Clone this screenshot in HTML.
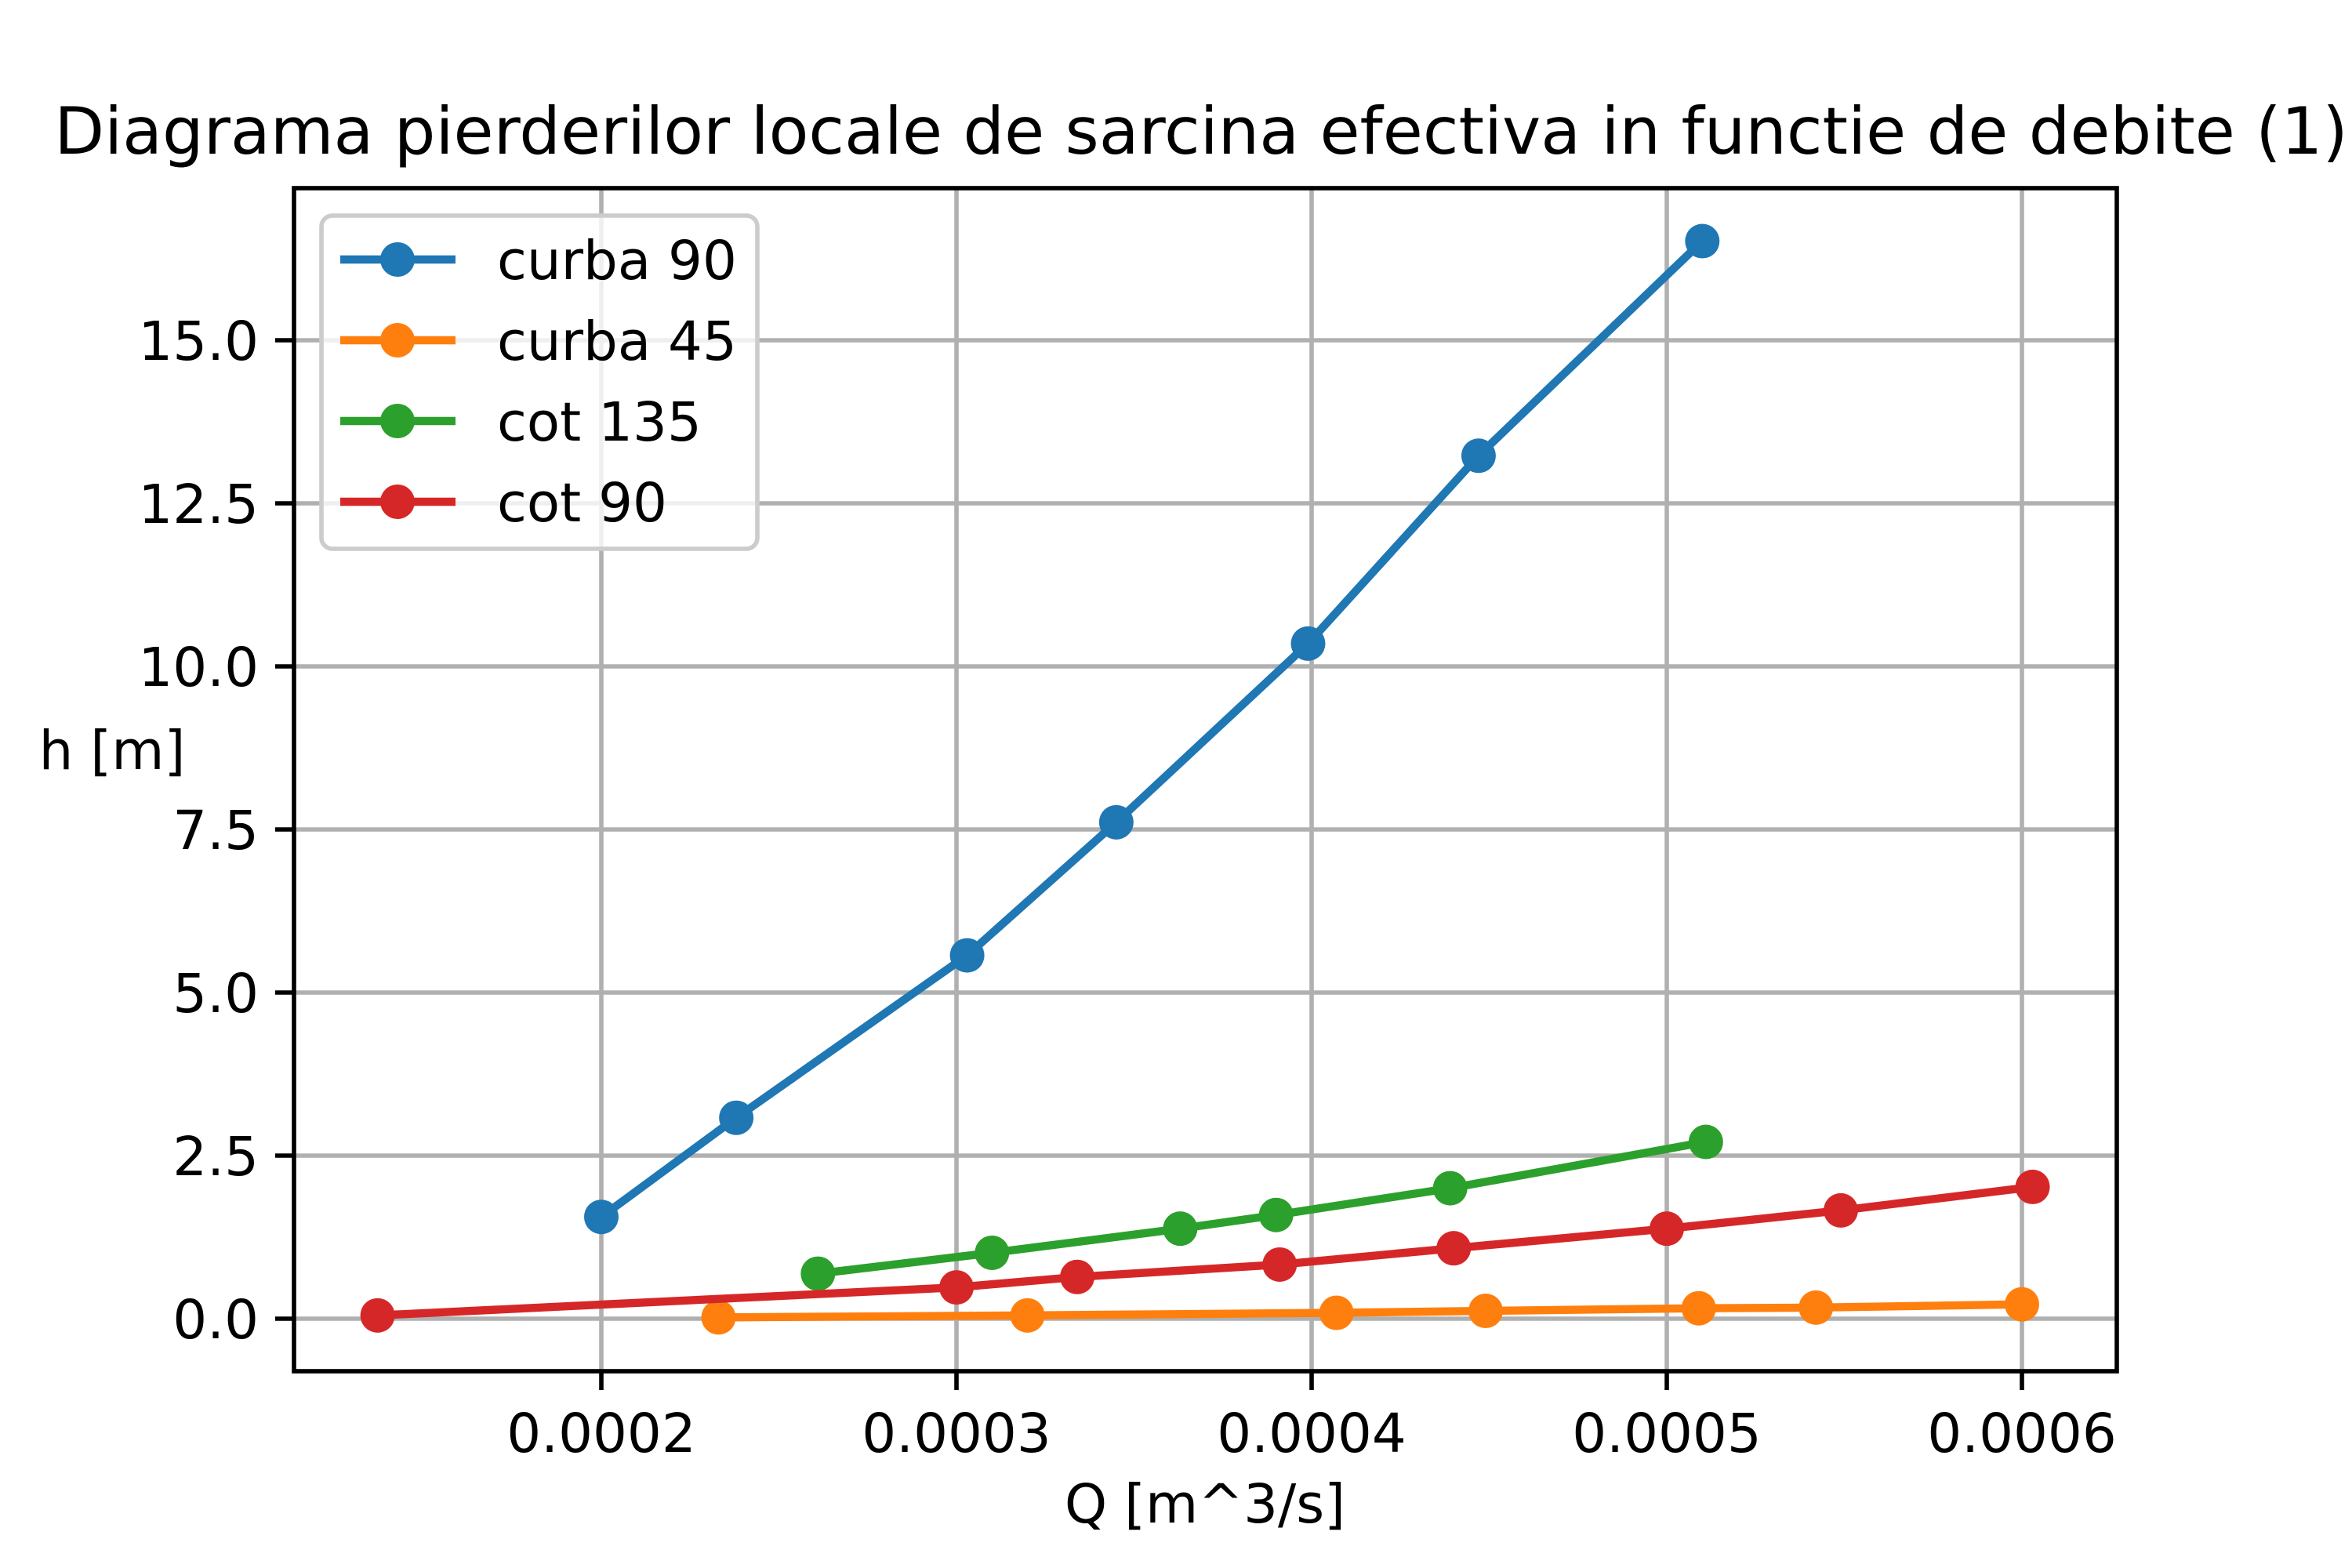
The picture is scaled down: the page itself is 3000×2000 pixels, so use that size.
<!DOCTYPE html>
<html><head><meta charset="utf-8"><style>
html,body{margin:0;padding:0;background:#fff}
svg{display:block;font-family:"DejaVu Sans","Liberation Sans",sans-serif}
</style></head><body>
<svg id="chart" width="3000" height="2000" viewBox="0 0 3000 2000" xmlns="http://www.w3.org/2000/svg">
<rect width="3000" height="2000" fill="#fff"/>
<g id="grid"></g>
<g id="series"></g>
<rect x="375" y="240" width="2325" height="1509" fill="none" stroke="#000" stroke-width="5.6"/>
<g id="ticks"></g>
<text x="1532" y="196" font-size="83" text-anchor="middle">Diagrama pierderilor locale de sarcina efectiva in functie de debite (1)</text>
<text x="1537" y="1942" font-size="69" text-anchor="middle">Q [m^3/s]</text>
<text x="143" y="981" font-size="69" text-anchor="middle">h [m]</text>
<g id="legend">
<rect x="410" y="275" width="556" height="425" rx="14" fill="#fff" fill-opacity="0.8" stroke="#cccccc" stroke-width="5.6"/>
</g>
</svg>
<script>
const xTicks = [0.0002, 0.0003, 0.0004, 0.0005, 0.0006];
const xTickLabels = ["0.0002", "0.0003", "0.0004", "0.0005", "0.0006"];
const yTicks = [0, 2.5, 5, 7.5, 10, 12.5, 15];
const yTickLabels = ["0.0", "2.5", "5.0", "7.5", "10.0", "12.5", "15.0"];
const seriesNames = ["curba 90", "curba 45", "cot 135", "cot 90"];
const seriesColors = ["#1f77b4", "#ff7f0e", "#2ca02c", "#d62728"];
const q90 = [0.0002, 0.000238, 0.000303, 0.000345, 0.000399, 0.000447, 0.00051];
const h90 = [1.56, 3.08, 5.57, 7.61, 10.35, 13.23, 16.52];
const q45 = [0.000233, 0.00032, 0.000407, 0.000449, 0.000509, 0.000542, 0.0006];
const h45 = [0.02, 0.05, 0.09, 0.12, 0.16, 0.17, 0.22];
const q135 = [0.000261, 0.00031, 0.000363, 0.00039, 0.000439, 0.000511];
const h135 = [0.69, 1.01, 1.38, 1.59, 2.0, 2.71];
const qc90 = [0.000137, 0.0003, 0.000334, 0.000391, 0.00044, 0.0005, 0.000549, 0.000603];
const hc90 = [0.05, 0.48, 0.64, 0.83, 1.08, 1.38, 1.66, 2.02];

const NS = "http://www.w3.org/2000/svg";
const X = v => 767 + (v - 0.0002) / 0.0001 * 453;
const Y = v => 1682 - v * 83.2;
function mk(tag, attrs, parent) {
  const e = document.createElementNS(NS, tag);
  for (const k in attrs) e.setAttribute(k, attrs[k]);
  parent.appendChild(e);
  return e;
}
const grid = document.getElementById('grid');
const ticks = document.getElementById('ticks');
xTicks.forEach((t, i) => {
  const g = mk('line', {x1: X(t), x2: X(t), y1: 240, y2: 1749, stroke: '#b0b0b0', 'stroke-width': 5.6}, grid);
  
  
  const tk = mk('line', {x1: X(t), x2: X(t), y1: 1749, y2: 1773, stroke: '#000', 'stroke-width': 5.6}, ticks);
  
  
  const tx = mk('text', {x: X(t), y: 1852, 'font-size': 69, 'text-anchor': 'middle'}, ticks);
  tx.textContent = xTickLabels[i];
  
  
});
yTicks.forEach((t, i) => {
  const g = mk('line', {x1: 375, x2: 2700, y1: Y(t), y2: Y(t), stroke: '#b0b0b0', 'stroke-width': 5.6}, grid);
  
  
  const tk = mk('line', {x1: 351, x2: 375, y1: Y(t), y2: Y(t), stroke: '#000', 'stroke-width': 5.6}, ticks);
  
  
  const tx = mk('text', {x: 330, y: Y(t) + 25, 'font-size': 69, 'text-anchor': 'end'}, ticks);
  tx.textContent = yTickLabels[i];
  
  
});
const seriesG = document.getElementById('series');
const allQ = [q90, q45, q135, qc90];
const allH = [h90, h45, h135, hc90];
allQ.forEach((qs, s) => {
  const hs = allH[s];
  const pts = qs.map((q, i) => X(q) + ',' + Y(hs[i])).join(' ');
  const pl = mk('polyline', {points: pts, fill: 'none', stroke: seriesColors[s], 'stroke-width': 10.4, 'stroke-linejoin': 'round', 'stroke-linecap': 'square'}, seriesG);
  
  
  qs.forEach((q, i) => {
    const c = mk('circle', {cx: X(q), cy: Y(hs[i]), r: 22, fill: seriesColors[s]}, seriesG);
    
    
  });
});
const legend = document.getElementById('legend');
seriesNames.forEach((n, i) => {
  const y = 331 + i * 103;
  const l = mk('line', {x1: 434, x2: 581, y1: y, y2: y, stroke: seriesColors[i], 'stroke-width': 10.4}, legend);
  
  
  const c = mk('circle', {cx: 507, cy: y, r: 22, fill: seriesColors[i]}, legend);
  
  
  const t = mk('text', {x: 634, y: y + 25, 'font-size': 69}, legend);
  t.textContent = n;
  
  
});
</script>
</body></html>
